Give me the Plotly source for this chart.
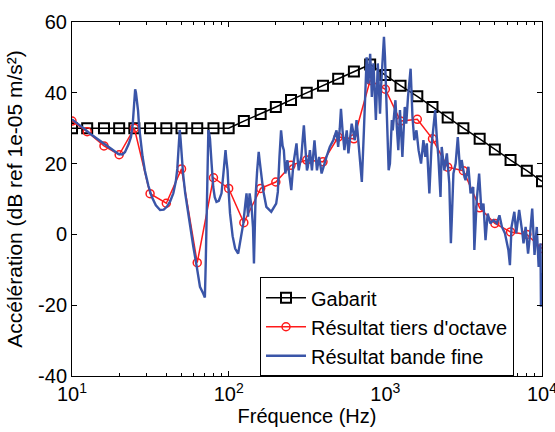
import plotly.graph_objects as go

# Gabarit (third-octave band centres)
gab_f = [10, 12.5, 16, 20, 25, 31.5, 40, 50, 63, 80, 100, 125, 160, 200, 250, 315, 400,
         500, 630, 800, 1000, 1250, 1600, 2000, 2500, 3150, 4000, 5000, 6300, 8000, 10000]
gab_db = [30, 30, 30, 30, 30, 30, 30, 30, 30, 30, 30, 32, 34, 36, 38, 40, 42,
          44, 46, 48, 45, 42, 39, 36, 33, 30, 27, 24, 21, 18, 15]

# Résultat tiers d'octave
oct_f = gab_f
oct_db = [32, 29, 25, 22.5, 30, 11.5, 8.8, 18.5, -8, 16, 13, 3.3, 13, 14.8, 19.5, 21, 20.5,
          27.5, 27, 43.5, 41, 32, 32.5, 27, 19, 18, 7.5, 3.1, 0.7, 0, -4]

# Résultat bande fine
fine_f = [10, 11, 12, 13, 14.5, 15.8, 17.5, 19.8, 21, 21.8, 23, 23.8, 24.4, 24.9, 25.3, 25.6,
          26, 26.4, 26.8, 27.3, 28.2, 29.2, 30.7, 32.3, 34.3, 36.5, 38.5, 40.3, 42.3, 44.3,
          46, 47, 47.7, 48.2, 48.7, 49.3, 50, 51.2, 52.8, 56, 59.5, 62.5, 65.6, 68.8, 70.5,
          71.4, 72.3, 73.3, 74.2, 75.1, 76, 77.8, 79.7, 81.5, 83.6, 86.5, 90, 92.5, 94.5,
          95.5, 96.5, 98.4, 100, 102, 106, 110, 115, 119, 124, 128, 130, 133, 136, 140, 143,
          145, 148.5, 152, 155.5, 158, 160, 166, 174, 187, 201, 206, 211, 216, 221, 225, 230,
          237, 245, 251, 259, 265, 271, 276, 280, 285, 291, 297, 302, 306, 313, 316, 320, 330,
          340, 353, 366, 378, 392, 407, 421, 442, 465, 488, 500, 512, 521, 533, 548, 567, 581,
          610, 639, 655, 675, 697, 708, 730, 760, 770, 780, 790, 800, 810, 820, 840, 855, 870,
          895, 910, 925, 940, 955, 970, 980, 995, 1010, 1030, 1050, 1070, 1100, 1115, 1160,
          1185, 1210, 1240, 1285, 1330, 1360, 1395, 1420, 1450, 1470, 1490, 1530, 1580, 1630,
          1690, 1750, 1800, 1840, 1910, 1970, 2010, 2080, 2130, 2180, 2250, 2290, 2380, 2470,
          2560, 2620, 2660, 2720, 2810, 2900, 3000, 3070, 3200, 3250, 3390, 3500, 3640, 3700,
          3830, 3970, 4100, 4230, 4360, 4500, 4680, 4900, 5150, 5350, 5550, 5800, 6100, 6240,
          6390, 6660, 6850, 7150, 7500, 7620, 7860, 8150, 8400, 8660, 8960, 9260, 9520, 9780,
          9850, 10000]
fine_db = [32.5, 31.2, 29.8, 28.5, 27, 25.7, 24.2, 22.7, 22.6, 23.3, 25.5, 27.5, 31, 36, 41, 40,
           37.5, 35, 30.5, 27, 22, 18, 13.8, 10.6, 8.2, 6.9, 7, 7.8, 9.3, 11.6,
           15, 18.5, 24, 28, 29.5, 27, 22.5, 17, 11.6, 3.5, -3.5, -9, -14.8, -16.7, -17.8,
           -8, 2, 18, 29.5, 28.5, 27, 20, 13.4, 10.5, 9.2, 9.5, 11.6, 17, 23.5,
           23.8, 21.5, 18, 12, 6, -0.5, -4, -5.4, -2, 3.1, 9, 11.6, 5, 11.6, 7.8, 2,
           -8.2, 10.6, 18, 23.3, 20.5, 18.1, 12.5, 7.8, 6.4, 8.7, 12, 21.9, 29.4, 25, 23.8, 17.2,
           21, 16.2, 12.5, 20, 23, 25.7, 21, 18.1, 20, 21.9, 27, 30.8, 27, 21.9, 18.1, 19, 23.8,
           18.1, 26.6, 18.1, 21.9, 17.2, 20, 21.9, 24.7, 26.6, 29.4, 24.7, 30, 35.5, 29.4, 23.8, 29.4, 22.9,
           31.3, 26.6, 32.3, 25, 17.2, 14.8, 29.4, 50, 45, 42.6, 47, 51, 46, 38.8, 48.3, 40, 32.3,
           48.3, 40, 34.1, 42, 48.3, 52, 55.8, 50, 40.7, 34, 18.1, 20, 32.3, 29.4, 37.9,
           30, 23.8, 35.1, 21.9, 36, 31.3, 38.8, 42, 46.8, 40, 33.2, 26.6, 29.4, 23.8,
           20, 26.6, 21.9, 25.7, 11.6, 24.7, 29.4, 35.1, 27.5, 21.9, 10.6, 24.7, 18.1, 22.9,
           14.4, -2.5, 5, 17.2, 20, 27.5, 18.1, 21, 16.2, 15.3, 19.1, 11.6, 13.4, -4.4,
           9.6, 17.2, 6.9, 8.7, -1.6, 5.9, 3.1, 4, 3.1, 5.4, 2.1, 0.3, -4.4, -8.7,
           2.1, 6.4, 0.3, 6.9, 0.3, -2.5, 2.1, -5.4, 0.3, 7.3, -5.8, 2.1, -9.2, -2.5,
           -20.4, -11]

x_tickvals = [10, 100, 1000, 10000]
x_ticktext = ["10<sup>1</sup>", "10<sup>2</sup>", "10<sup>3</sup>", "10<sup>4</sup>"]
x_minor = [m * d for d in (10, 100, 1000) for m in range(2, 10)]
y_tickvals = [-40, -20, 0, 20, 40, 60]
y_ticktext = ["-40", "-20", "0", "20", "40", "60"]

FONT = "Liberation Sans, Arial, Helvetica, sans-serif"

fig = go.Figure()
fig.add_trace(go.Scatter(
    x=gab_f, y=gab_db, name="Gabarit", mode="lines+markers",
    line=dict(color="black", width=1.5),
    marker=dict(symbol="square-open", size=10, color="black", line=dict(width=2))))
fig.add_trace(go.Scatter(
    x=oct_f, y=oct_db, name="Résultat tiers d'octave", mode="lines+markers",
    line=dict(color="#ff1a1a", width=1.5),
    marker=dict(symbol="circle-open", size=8, color="#ff1a1a", line=dict(width=1.5))))
fig.add_trace(go.Scatter(
    x=fine_f, y=fine_db, name="Résultat bande fine", mode="lines",
    line=dict(color="#3a55a8", width=2.4)))
# carrier for the minor-tick axis
fig.add_trace(go.Scatter(x=[10, 10000], y=[None, None], xaxis="x2", yaxis="y",
                         mode="lines", showlegend=False, hoverinfo="skip"))

fig.update_layout(
    width=555, height=432,
    margin=dict(l=72, r=13, t=22, b=56),
    paper_bgcolor="white", plot_bgcolor="white",
    font=dict(family=FONT, size=20, color="black"),
    showlegend=True,
    legend=dict(x=0.4, y=0.279, xanchor="left", yanchor="top",
                bgcolor="white", bordercolor="black", borderwidth=1,
                font=dict(size=20), itemwidth=40, tracegroupgap=0),
    xaxis=dict(type="log", range=[1, 4], tickvals=x_tickvals, ticktext=x_ticktext,
               ticks="inside", ticklen=5, tickcolor="black", showline=True,
               linecolor="black", linewidth=1, mirror="ticks", showgrid=False,
               zeroline=False, ticklabeloverflow="allow", automargin=False,
               title=dict(text="Fréquence (Hz)", font=dict(size=20), standoff=4)),
    xaxis2=dict(type="log", range=[1, 4], overlaying="x", anchor="y", side="bottom",
                tickvals=x_minor, showticklabels=False, ticks="inside", ticklen=3,
                tickcolor="black", showline=True, linecolor="black", linewidth=1,
                mirror="ticks", showgrid=False, zeroline=False, automargin=False),
    yaxis=dict(range=[-40, 60], tickvals=y_tickvals, ticktext=y_ticktext,
               ticks="inside", ticklen=5, tickcolor="black", showline=True,
               linecolor="black", linewidth=1, mirror="ticks", showgrid=False,
               zeroline=False, automargin=False,
               title=dict(text="Accélération (dB ref 1e-05 m/s²)", font=dict(size=21),
                          standoff=9)),
)

fig.write_html("out.html")
